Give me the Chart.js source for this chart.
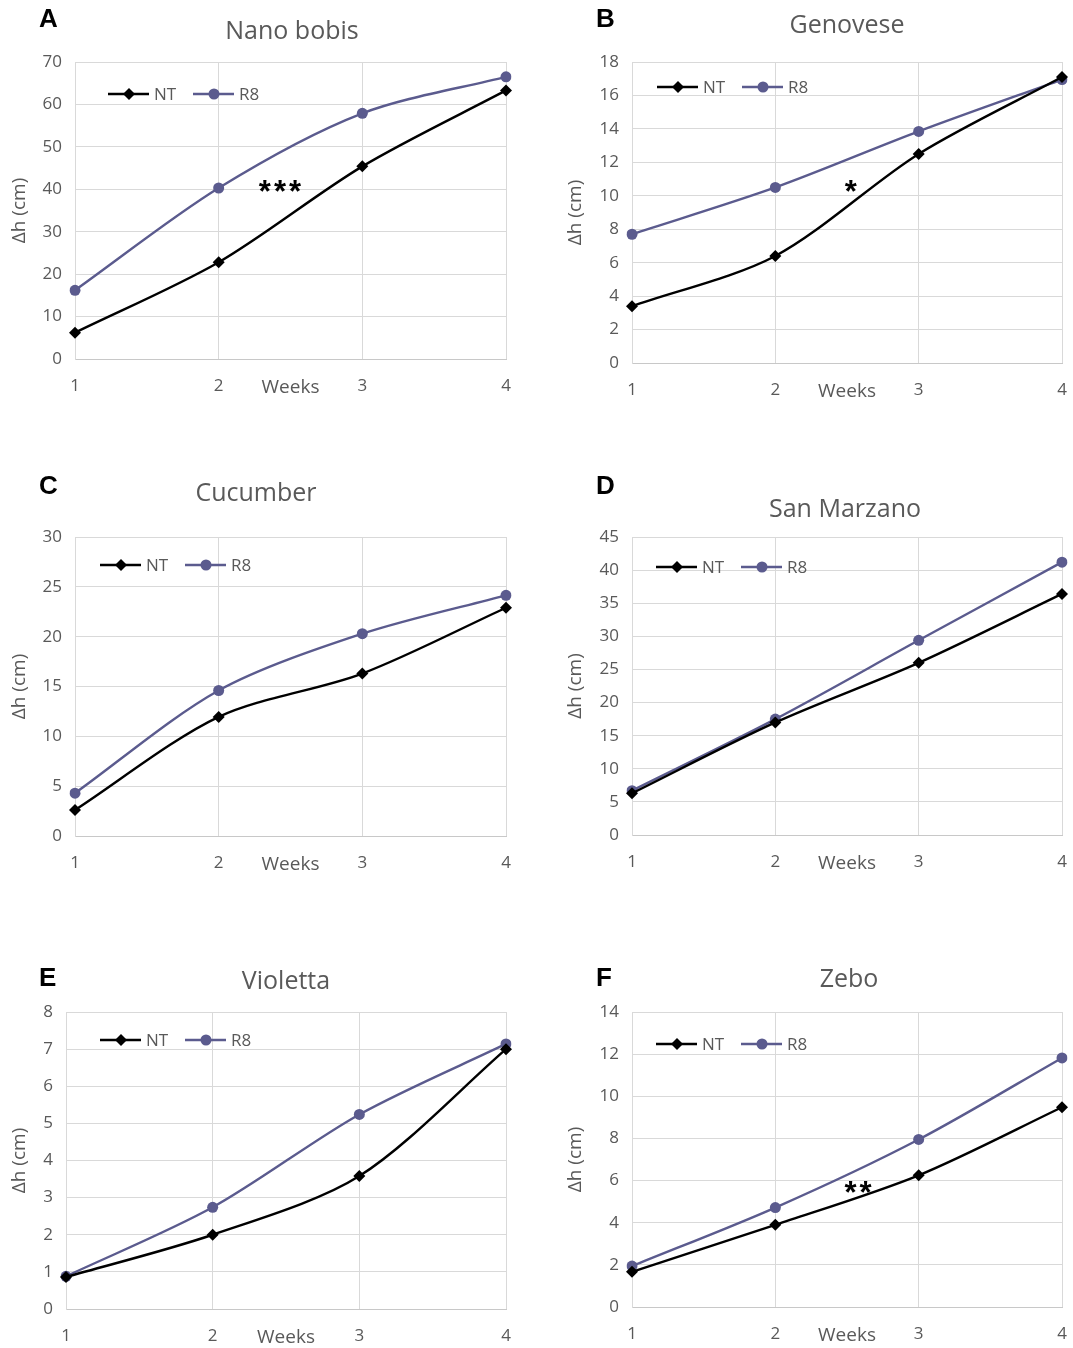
<!DOCTYPE html>
<html>
<head>
<meta charset="utf-8">
<script src="https://cdn.jsdelivr.net/npm/chart.js@4.4.0/dist/chart.umd.min.js"></script>
<style>
    body { margin: 0; background: #fff; width: 1073px; height: 1348px; position: relative; overflow: hidden; }
    canvas { position: absolute; }
</style>
</head>
<body>
<canvas id="chartA" width="536" height="420" style="left:0;top:0"></canvas>
<canvas id="chartB" width="537" height="420" style="left:536px;top:0"></canvas>
<canvas id="chartC" width="536" height="420" style="left:0;top:460px"></canvas>
<canvas id="chartD" width="537" height="420" style="left:536px;top:460px"></canvas>
<canvas id="chartE" width="536" height="398" style="left:0;top:950px"></canvas>
<canvas id="chartF" width="537" height="398" style="left:536px;top:950px"></canvas>
<script>
// Data (Δh in cm per week)
const WEEKS = ['1', '2', '3', '4'];

const NANO_NT = [6.2, 22.8, 45.4, 63.3];
const NANO_R8 = [16.2, 40.3, 57.9, 66.5];

const GEN_NT = [3.4, 6.4, 12.5, 17.1];
const GEN_R8 = [7.7, 10.5, 13.85, 16.95];

const CUC_NT = [2.6, 11.95, 16.3, 22.9];
const CUC_R8 = [4.3, 14.6, 20.3, 24.15];

const SANM_NT = [6.3, 17.0, 26.0, 36.4];
const SANM_R8 = [6.7, 17.5, 29.4, 41.2];

const VIO_NT = [0.86, 2.0, 3.58, 7.0];
const VIO_R8 = [0.88, 2.74, 5.24, 7.14];

const ZEBO_NT = [1.67, 3.9, 6.25, 9.48];
const ZEBO_R8 = [1.94, 4.72, 7.95, 11.82];

// significance marks: [text, week index (0-based, fractional), value]
const STARS_A = ['***', 1.43, 41];
const STARS_B = ['*', 1.53, 10.6];
const STARS_F = ['**', 1.58, 5.74];

const NT_COLOR = '#000000';
const R8_COLOR = '#5b5b8e';
const GRID = '#d9d9d9';
const TEXT_GREY = '#595959';
const FONT = '"Open Sans", "Noto Sans", sans-serif';

// Draws panel letter, title, axis titles, in-plot legend and asterisks
const panelText = {
    id: 'panelText',
    afterDraw(chart, args, o) {
        const { ctx, chartArea: a } = chart;
        ctx.save();
        ctx.textBaseline = 'middle';

        // panel letter
        ctx.fillStyle = '#000';
        ctx.textAlign = 'left';
        ctx.font = 'bold 26px "Liberation Sans", Arial, sans-serif';
        ctx.fillText(o.letter, o.letterX, o.letterY);

        // title
        ctx.fillStyle = TEXT_GREY;
        ctx.textAlign = 'center';
        ctx.font = '25px ' + FONT;
        ctx.fillText(o.title, o.titleX, o.titleY);

        // x axis title, sits between the tick labels
        ctx.font = '19px ' + FONT;
        ctx.fillText('Weeks', (a.left + a.right) / 2, a.bottom + 29);

        // y axis title
        ctx.save();
        ctx.translate(o.yTitleX, (a.top + a.bottom) / 2);
        ctx.rotate(-Math.PI / 2);
        ctx.font = '19px ' + FONT;
        ctx.fillText('Δh (cm)', 0, 0);
        ctx.restore();

        // legend (line + marker, excel style)
        ctx.font = '17px ' + FONT;
        ctx.textAlign = 'left';
        chart.data.datasets.forEach((ds, i) => {
            const x0 = o.legendX + i * 85;
            const y0 = o.legendY;
            ctx.strokeStyle = ds.borderColor;
            ctx.lineWidth = ds.borderWidth;
            ctx.beginPath();
            ctx.moveTo(x0, y0);
            ctx.lineTo(x0 + 41, y0);
            ctx.stroke();
            drawMarker(ctx, ds.pointStyle, x0 + 21, y0, ds.pointRadius, ds.borderColor);
            ctx.fillStyle = TEXT_GREY;
            ctx.fillText(ds.label, x0 + 46, y0 + 1);
        });

        // significance asterisks
        if (o.stars) {
            const [txt, wx, val] = o.stars;
            ctx.fillStyle = '#000';
            ctx.textAlign = 'center';
            ctx.font = 'bold 31px "Liberation Sans", Arial, sans-serif';
            ctx.letterSpacing = '3px';
            ctx.fillText(txt, chart.scales.x.getPixelForValue(wx) + 1, chart.scales.y.getPixelForValue(val) + 8);
        }
        ctx.restore();
    }
};

function drawMarker(ctx, style, x, y, r, color) {
    ctx.fillStyle = color;
    ctx.beginPath();
    if (style === 'rectRot') {
        ctx.moveTo(x, y - r);
        ctx.lineTo(x + r, y);
        ctx.lineTo(x, y + r);
        ctx.lineTo(x - r, y);
        ctx.closePath();
    } else {
        ctx.arc(x, y, r, 0, Math.PI * 2);
    }
    ctx.fill();
}

function makeChart(id, nt, r8, yMax, yStep, box, txt) {
    const ctx = document.getElementById(id).getContext('2d');
    const xAxisH = 40;
    return new Chart(ctx, {
        type: 'line',
        data: {
            labels: WEEKS,
            datasets: [
                { label: 'NT', data: nt, borderColor: NT_COLOR, backgroundColor: NT_COLOR, borderWidth: 2.4,
                  pointStyle: 'rectRot', pointRadius: 6, pointBackgroundColor: NT_COLOR, pointBorderWidth: 0, tension: 0.3 },
                { label: 'R8', data: r8, borderColor: R8_COLOR, backgroundColor: R8_COLOR, borderWidth: 2.4,
                  pointStyle: 'circle', pointRadius: 5.5, pointBackgroundColor: R8_COLOR, pointBorderWidth: 0, tension: 0.3 }
            ]
        },
        options: {
            responsive: false, animation: false, devicePixelRatio: 1,
            layout: { padding: { left: 0, top: box.top, right: box.w - box.right, bottom: box.h - box.bottom - xAxisH } },
            plugins: { legend: { display: false }, tooltip: { enabled: false }, panelText: txt },
            scales: {
                x: {
                    offset: false,
                    // invisible tick marks push labels down without adding side padding
                    grid: { color: GRID, drawTicks: true, tickLength: 15, tickColor: 'rgba(0,0,0,0)' },
                    border: { color: '#c8c8c8' },
                    ticks: { color: TEXT_GREY, font: { family: FONT, size: 17 }, padding: 2, maxRotation: 0 },
                    afterFit: (s) => { s.height = xAxisH; }
                },
                y: {
                    min: 0, max: yMax,
                    grid: { color: GRID, drawTicks: false },
                    border: { color: GRID },
                    ticks: { stepSize: yStep, color: TEXT_GREY, font: { family: FONT, size: 17 }, padding: 13 },
                    afterFit: (s) => { s.width = box.left; }
                }
            }
        },
        plugins: [panelText]
    });
}

makeChart('chartA', NANO_NT, NANO_R8, 70, 10,
    { w: 536, h: 420, left: 75, right: 506, top: 62, bottom: 359 },
    { letter: 'A', letterX: 39, letterY: 20, title: 'Nano bobis', titleX: 292, titleY: 32, yTitleX: 20, legendX: 108, legendY: 94, stars: STARS_A });
makeChart('chartB', GEN_NT, GEN_R8, 18, 2,
    { w: 537, h: 420, left: 96, right: 526, top: 62, bottom: 363 },
    { letter: 'B', letterX: 60, letterY: 20, title: 'Genovese', titleX: 311, titleY: 26, yTitleX: 40, legendX: 121, legendY: 87, stars: STARS_B });
makeChart('chartC', CUC_NT, CUC_R8, 30, 5,
    { w: 536, h: 420, left: 75, right: 506, top: 77, bottom: 376 },
    { letter: 'C', letterX: 39, letterY: 27, title: 'Cucumber', titleX: 256, titleY: 34, yTitleX: 20, legendX: 100, legendY: 105 });
makeChart('chartD', SANM_NT, SANM_R8, 45, 5,
    { w: 537, h: 420, left: 96, right: 526, top: 77, bottom: 375 },
    { letter: 'D', letterX: 60, letterY: 27, title: 'San Marzano', titleX: 309, titleY: 50, yTitleX: 40, legendX: 120, legendY: 107 });
makeChart('chartE', VIO_NT, VIO_R8, 8, 1,
    { w: 536, h: 398, left: 66, right: 506, top: 62, bottom: 359 },
    { letter: 'E', letterX: 39, letterY: 29, title: 'Violetta', titleX: 286, titleY: 32, yTitleX: 20, legendX: 100, legendY: 90 });
makeChart('chartF', ZEBO_NT, ZEBO_R8, 14, 2,
    { w: 537, h: 398, left: 96, right: 526, top: 62, bottom: 357 },
    { letter: 'F', letterX: 60, letterY: 29, title: 'Zebo', titleX: 313, titleY: 30, yTitleX: 40, legendX: 120, legendY: 94, stars: STARS_F });
</script>
</body>
</html>
